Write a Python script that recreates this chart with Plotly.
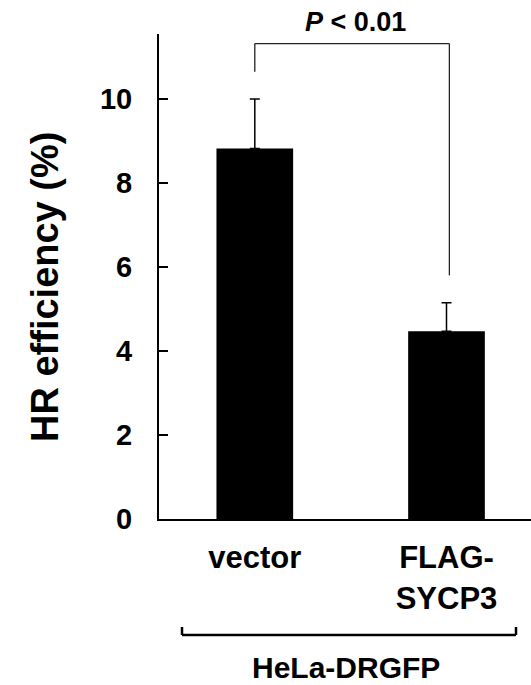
import plotly.graph_objects as go

categories = ["vector", "FLAG-<br>SYCP3"]
hr_efficiency = [8.82, 4.47]
hr_error = [1.18, 0.68]
y_ticks = [0, 2, 4, 6, 8, 10]
y_title = "HR efficiency (%)"
group_label = "HeLa-DRGFP"
sig_label = "<b><i>P</i> < 0.01</b>"

FONT = "Liberation Sans, Arial, Helvetica, sans-serif"
W, H = 531, 685
ML, MT, MB, MR = 159, 34, 166, 0
plot_h = H - MT - MB
plot_w = W - ML - MR
px_per_unit = 42.0
y_max = plot_h / px_per_unit

xpos = list(range(len(categories)))


def px_x(px):
    return (px - ML) / plot_w


def px_y(py):
    return (H - MB - py) / plot_h


fig = go.Figure()
fig.add_trace(go.Bar(
    x=xpos, y=hr_efficiency, width=0.40,
    marker=dict(color="black", line=dict(width=0)),
    error_y=dict(type="data", symmetric=False, array=hr_error,
                 arrayminus=[0] * len(hr_error),
                 color="black", thickness=1.5, width=5),
    showlegend=False, hoverinfo="skip",
))

# significance bracket
br_low_left = 10.65
br_top = 11.32
br_low_right = 5.80
xr = xpos[1] + 0.015
line_style = dict(color="#222222", width=1.3)
fig.add_shape(type="line", x0=xpos[0], x1=xpos[0], y0=br_low_left, y1=br_top, line=line_style)
fig.add_shape(type="line", x0=xpos[0], x1=xr, y0=br_top, y1=br_top, line=line_style)
fig.add_shape(type="line", x0=xr, x1=xr, y0=br_top, y1=br_low_right, line=line_style)
fig.add_annotation(xref="paper", yref="paper", x=px_x(355), y=px_y(22),
                   text=sig_label, showarrow=False,
                   font=dict(family=FONT, size=27, color="black"),
                   xanchor="center", yanchor="middle")

# group bracket below
gl = dict(color="black", width=2.5)
fig.add_shape(type="line", xref="paper", yref="paper",
              x0=px_x(182), x1=px_x(516), y0=px_y(635), y1=px_y(635), line=gl)
fig.add_shape(type="line", xref="paper", yref="paper",
              x0=px_x(182), x1=px_x(182), y0=px_y(635), y1=px_y(627), line=gl)
fig.add_shape(type="line", xref="paper", yref="paper",
              x0=px_x(516), x1=px_x(516), y0=px_y(635), y1=px_y(627), line=gl)
fig.add_annotation(xref="paper", yref="paper", x=px_x(346), y=px_y(667),
                   text="<b>" + group_label + "</b>", showarrow=False,
                   font=dict(family=FONT, size=30, color="black"),
                   xanchor="center", yanchor="middle", borderpad=0)

# y title
fig.add_annotation(xref="paper", yref="paper", x=px_x(45), y=px_y(287),
                   text="<b>" + y_title + "</b>", textangle=-90, showarrow=False,
                   font=dict(family=FONT, size=38, color="black"),
                   xanchor="center", yanchor="middle")

x_left = -95.8 / 191.7
x_right = (plot_w - 95.8) / 191.7

fig.update_layout(
    width=W, height=H,
    margin=dict(l=ML, r=MR, t=MT, b=MB, pad=0),
    paper_bgcolor="white", plot_bgcolor="white",
    font=dict(family=FONT, color="black"),
    hovermode=False,
    xaxis=dict(range=[x_left, x_right], tickvals=xpos,
               ticktext=["<b>" + c + "</b>" for c in categories],
               showline=True, linecolor="black", linewidth=2,
               ticks="", showgrid=False, zeroline=False, fixedrange=True,
               tickfont=dict(family=FONT, size=31, color="black"),
               ticklabelstandoff=10),
    yaxis=dict(range=[0, y_max], tickvals=y_ticks,
               ticktext=["<b>%d</b>" % v for v in y_ticks],
               showline=True, linecolor="black", linewidth=2,
               ticks="inside", ticklen=9, tickwidth=2, tickcolor="black",
               showgrid=False, zeroline=False, fixedrange=True,
               tickfont=dict(family=FONT, size=29, color="black"),
               ticklabelstandoff=19),
)

fig.write_html("out.html", config={"displayModeBar": False},
               post_script="document.body.style.margin='0';document.body.style.overflow='hidden';")
